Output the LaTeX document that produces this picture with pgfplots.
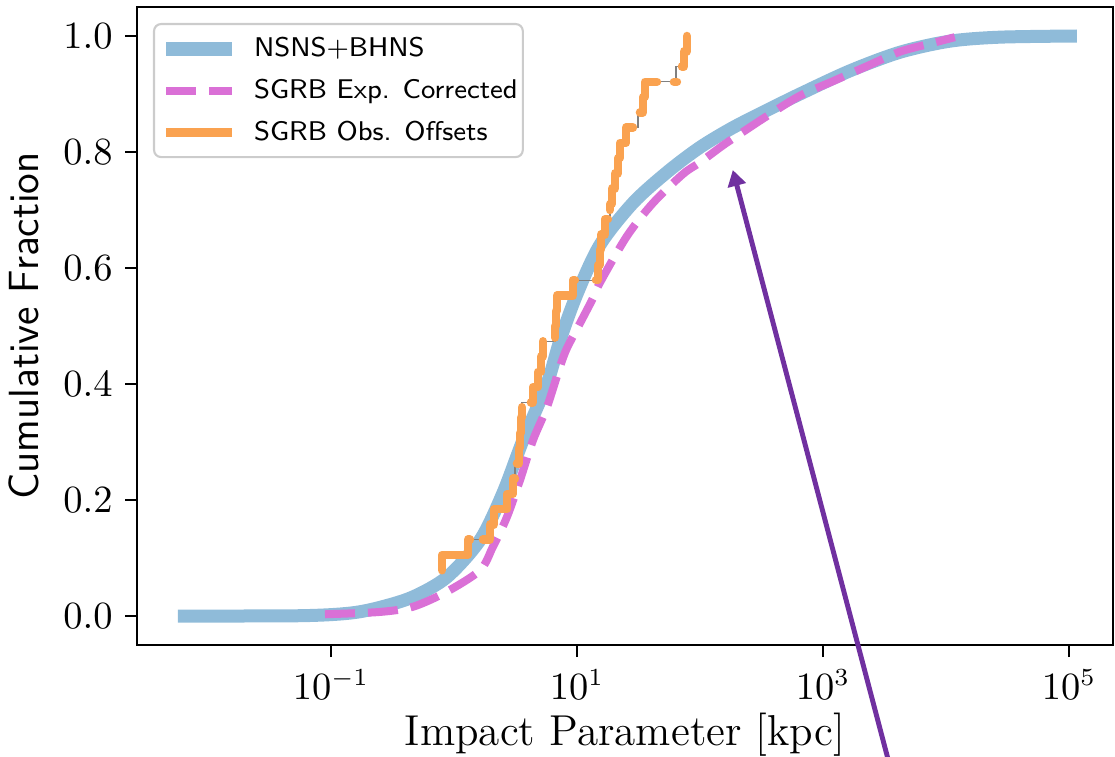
\documentclass[border=0pt]{standalone}
\usepackage{pgfplots}
\pgfplotsset{compat=1.18}
\usetikzlibrary{arrows.meta}
\definecolor{nsblue}{RGB}{143,187,217}
\definecolor{sgrbpink}{RGB}{218,112,214}
\definecolor{sgrborange}{RGB}{250,162,80}
\definecolor{arrowpurple}{RGB}{112,48,160}
\begin{document}
\begin{tikzpicture}
\begin{axis}[
  name=ax, scale only axis, width=9.76cm, height=6.38cm,
  xmode=log, xmin=2.65e-3, xmax=2.28e5, ymin=-0.05, ymax=1.05,
  xtick={0.1,10,1000,100000}, ytick={0,0.2,0.4,0.6,0.8,1.0},
  xminorticks=false, yminorticks=false,
  tick align=outside, major tick length=0.12cm,
  tick style={black, line width=0.75pt},
  axis line style={line width=0.75pt},
  xtick pos=bottom, ytick pos=left,
  ticklabel style={font=\fontsize{10.5}{12}\selectfont},
  yticklabel style={/pgf/number format/.cd, fixed, fixed zerofill, precision=1},
  xlabel={Impact Parameter [kpc]}, ylabel={Cumulative Fraction},
  xlabel style={font=\fontsize{12.3}{14}\selectfont, at={(axis description cs:0.5,0)}, anchor=base, yshift=-1.0cm},
  ylabel style={font=\sffamily\fontsize{12}{14}\selectfont},
  clip=false,
  legend image code/.code={\draw[#1] (0cm,0cm) -- (0.66cm,0cm);},
  legend style={at={(0,1)}, anchor=north west, xshift=0.16cm, yshift=-0.16cm,
    draw=black!20, line width=0.6pt, rounded corners=0.07cm, fill=white,
    inner xsep=0.05cm, inner ysep=0.12cm, row sep=0.17cm,
    font=\sffamily\fontsize{7.7}{9.2}\selectfont,
    cells={anchor=west},
    nodes={inner sep=0pt, text height=0.2cm, text depth=0.05cm},
    /tikz/every odd column/.append style={column sep=0.15cm}},
]
\addlegendimage{nsblue, line width=0.14cm}
\addlegendentry{NSNS+BHNS}
\addlegendimage{sgrbpink, line width=0.08cm, dash pattern=on 0.3cm off 0.13cm}
\addlegendentry{SGRB Exp. Corrected}
\addlegendimage{sgrborange, line width=0.09cm}
\addlegendentry{SGRB Obs. Offsets}

% NSNS+BHNS
\addplot[forget plot, nsblue, line width=0.13cm, smooth, tension=0.5] coordinates {
 (0.0057,0) (0.056,0.0005) (0.143,0.005) (0.251,0.015) (0.465,0.033)
 (0.877,0.067) (1.63,0.131) (2.50,0.212) (3.64,0.303) (5.70,0.40)
 (7.28,0.475) (10.0,0.555) (15.4,0.64) (28.5,0.712) (53.9,0.765)
 (100,0.808) (185,0.842) (351,0.872) (650,0.90) (1660,0.94)
 (4230,0.972) (10700,0.991) (27500,0.998) (116000,1.0)
};

% SGRB Exp. Corrected
\addplot[forget plot, sgrbpink, line width=0.08cm, dash pattern=on 0.3cm off 0.13cm, smooth, tension=0.5] coordinates {
 (0.0894,0.003) (0.25,0.007) (0.465,0.016) (0.877,0.042) (1.63,0.079)
 (2.07,0.119) (2.70,0.171) (3.44,0.234) (4.39,0.303) (5.70,0.36)
 (7.28,0.43) (8.30,0.462) (10.6,0.505) (13.5,0.548) (15.4,0.575)
 (25.5,0.655) (41.5,0.712) (72.8,0.762) (100,0.782) (146,0.808)
 (185,0.823) (351,0.862) (650,0.897) (1205,0.922) (2280,0.948)
 (4230,0.973) (7830,0.988) (11800,0.998)
};

% SGRB Obs. Offsets: thin step line
\addplot[forget plot, black!50, line width=0.35pt, const plot mark left] coordinates {
 (0.799,0.0789) (0.80,0.1053) (1.30,0.1316) (1.962,0.1579) (2.114,0.1842)
 (2.697,0.2105) (3.018,0.2368) (3.133,0.2632) (3.377,0.2895) (3.441,0.3158)
 (3.505,0.3421) (3.571,0.3684) (4.388,0.3947) (4.818,0.4211) (5.096,0.4474)
 (5.291,0.4737) (6.624,0.5) (6.750,0.5263) (6.878,0.5526) (9.28,0.5789)
 (14.82,0.6053) (15.38,0.6316) (15.67,0.6579) (16.89,0.6842) (18.55,0.7105)
 (19.26,0.7368) (20.37,0.7632) (21.54,0.7895) (22.37,0.8158) (25.03,0.8421)
 (31.33,0.8684) (34.41,0.8947) (35.71,0.9211) (63.8,0.9474) (74.1,0.9737)
 (78.4,1.0)
};

% SGRB Obs. Offsets: thick pieces
\pgfplotsset{orangeseg/.style={forget plot, sgrborange, line width=0.085cm, line cap=round, line join=round}}
\addplot[orangeseg] coordinates {(0.799,0.0789) (0.799,0.1053) (1.30,0.1053) (1.30,0.1316) (1.349,0.1316)};
\addplot[orangeseg] coordinates {(1.721,0.1316) (1.962,0.1316) (1.962,0.1579) (2.114,0.1579) (2.114,0.1842) (2.697,0.1842) (2.697,0.2105) (3.018,0.2105) (3.018,0.2368) (3.133,0.2368)};
\addplot[orangeseg] coordinates {(3.252,0.2632) (3.377,0.2632) (3.377,0.2895) (3.441,0.2895) (3.441,0.3158) (3.505,0.3158) (3.505,0.3421) (3.571,0.3421) (3.571,0.36)};
\addplot[orangeseg] coordinates {(4.227,0.3684) (4.388,0.3684) (4.388,0.3947) (4.818,0.3947) (4.818,0.4211) (5.096,0.4211) (5.096,0.4474) (5.291,0.4474) (5.291,0.4737)};
\addplot[orangeseg] coordinates {(6.624,0.48) (6.624,0.5) (6.750,0.5) (6.750,0.5263) (6.878,0.5263) (6.878,0.5526) (9.28,0.5526) (9.28,0.5789) (9.63,0.5789)};
\addplot[orangeseg] coordinates {(14.27,0.5789) (14.82,0.5789) (14.82,0.6053) (15.38,0.6053) (15.38,0.6316) (15.67,0.6316) (15.67,0.6579) (16.89,0.6579) (16.89,0.6842) (17.86,0.6842)};
\addplot[orangeseg] coordinates {(18.55,0.70) (18.55,0.7105) (19.26,0.7105) (19.26,0.7368) (20.37,0.7368) (20.37,0.7632) (21.54,0.7632) (21.54,0.7895) (22.37,0.7895) (22.37,0.8158) (25.03,0.8158) (25.03,0.8421) (28.53,0.8421)};
\addplot[orangeseg] coordinates {(32.52,0.8684) (34.41,0.8684) (34.41,0.8947) (35.71,0.8947) (35.71,0.9211) (44.71,0.9211)};
\addplot[orangeseg] coordinates {(61.45,0.9211) (65.0,0.9211)};
\addplot[orangeseg] coordinates {(71.4,0.9474) (74.1,0.9474) (74.1,0.9737) (78.4,0.9737) (78.4,1.0)};

% annotation arrow
\draw[arrowpurple, line width=1.4pt, -{Triangle[length=0.16cm,width=0.18cm]}]
  (axis cs:3510,-0.26) -- (axis cs:185,0.769);
\end{axis}
\pgfresetboundingbox
\path[use as bounding box] ([shift={(-1.37cm,-1.11cm)}]ax.south west) rectangle ([shift={(0.02cm,0.07cm)}]ax.north east);
\end{tikzpicture}
\end{document}
